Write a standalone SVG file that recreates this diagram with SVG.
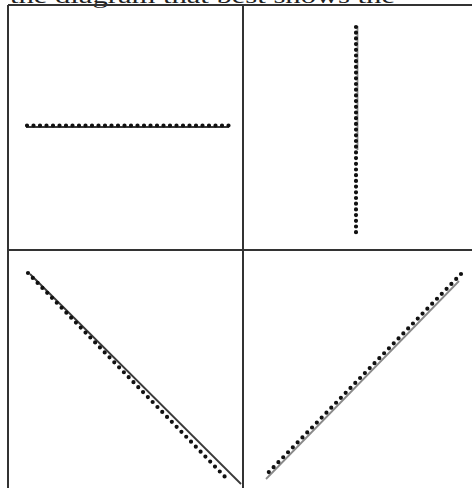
<svg xmlns="http://www.w3.org/2000/svg" width="472" height="488" viewBox="0 0 472 488">
<style>
.grid{stroke:#333;stroke-width:2;fill:none}
.solid{stroke:#3a3a3a;stroke-width:1.8;fill:none}
.faint{stroke:#8a8a8a;stroke-width:1.8;fill:none}
.dots{stroke:#111;stroke-width:4.2;stroke-linecap:round;fill:none}
.cap{font-family:"Liberation Serif",serif;font-size:20px;fill:#222}
</style>
<rect width="472" height="488" fill="#fff"/>
<text class="cap" x="10" y="2.5" textLength="385" lengthAdjust="spacingAndGlyphs">the diagram that best shows the</text>
<g id="grid">
<path class="grid" d="M8 5H472M8 250H472M8 5V488M243 5V488"/>
</g>
<g id="connectors">
<g id="panel-a">
<path class="solid" d="M26 127H229"/>
<path class="dots" d="M27 125.5H229" stroke-dasharray="0 6.5"/>
</g>
<g id="panel-b">
<path class="faint" d="M357.5 26V150"/>
<path class="dots" d="M356 27V233" stroke-dasharray="0 5.7"/>
</g>
<g id="panel-c">
<path class="solid" d="M30 274L241 484"/>
<path class="dots" d="M28 273L228 480" stroke-dasharray="0 6.9"/>
</g>
<g id="panel-d">
<path class="faint" d="M459 281L266 479"/>
<path class="dots" d="M461 274L265 476" stroke-dasharray="0 6.9"/>
</g>
</g>
</svg>
